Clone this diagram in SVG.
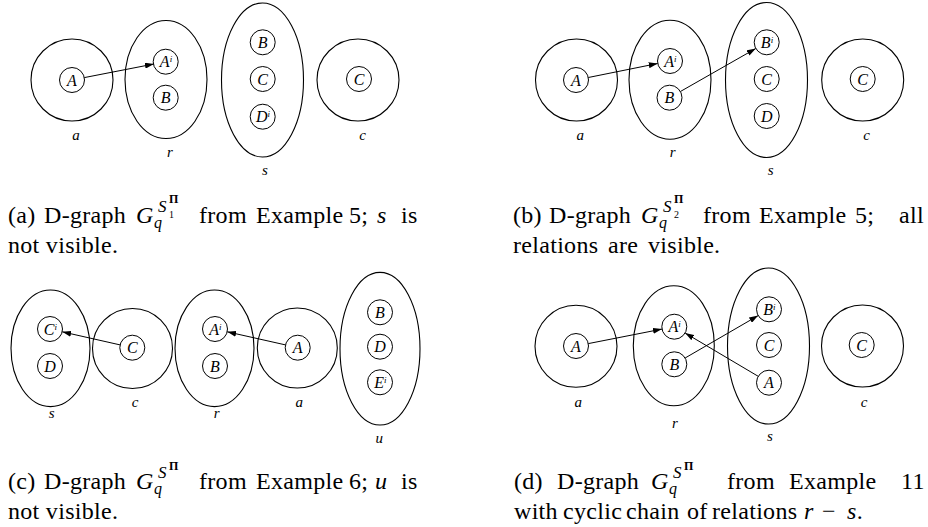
<svg xmlns="http://www.w3.org/2000/svg" width="928" height="527" viewBox="0 0 928 527">
<style>
.reg{fill:none;stroke:#000;stroke-width:1.1}
.att{fill:none;stroke:#000;stroke-width:1}
.al{font-family:'Liberation Serif','Times New Roman','DejaVu Serif',serif;font-style:italic;font-size:16px;text-anchor:middle;fill:#000}
.sup{font-size:9px}
.rl{font-family:'Liberation Serif','Times New Roman','DejaVu Serif',serif;font-style:italic;font-size:15px;text-anchor:middle;fill:#000}
.edge{fill:none;stroke:#000;stroke-width:1;marker-end:url(#ah)}
.cap{font-family:'Liberation Serif','Times New Roman','DejaVu Serif',serif;font-size:24px;letter-spacing:0.3px;fill:#000}
.it{font-style:italic}
.mG{font-family:'Liberation Serif','Times New Roman','DejaVu Serif',serif;font-style:italic;font-size:24px}
.mq{font-family:'Liberation Serif','Times New Roman','DejaVu Serif',serif;font-style:italic;font-size:16px}
.mS{font-family:'Liberation Serif','Times New Roman','DejaVu Serif',serif;font-style:italic;font-size:17px}
.m1{font-family:'Liberation Serif','Times New Roman','DejaVu Serif',serif;font-size:10px}
.mP{font-family:'Liberation Serif','Times New Roman','DejaVu Serif',serif;font-weight:bold;font-size:12px}
</style>
<defs>
<marker id="ah" markerUnits="userSpaceOnUse" markerWidth="9" markerHeight="6" refX="9" refY="3" orient="auto">
<path d="M0,0 L9,3 L0,6 z" fill="#000"/>
</marker>
</defs>

<!-- Panel (a) -->
<g id="a1-region-a"><circle class="reg" cx="72" cy="80" r="41"/><text class="rl" x="76" y="140">a</text></g>
<g id="a1-region-r"><ellipse class="reg" cx="166" cy="79.5" rx="41" ry="59"/><text class="rl" x="170" y="157">r</text></g>
<g id="a1-region-s"><ellipse class="reg" cx="262.5" cy="80" rx="41" ry="77"/><text class="rl" x="265" y="175">s</text></g>
<g id="a1-region-c"><circle class="reg" cx="358" cy="80" r="41"/><text class="rl" x="362.5" y="140">c</text></g>
<g id="a1-a-A"><circle class="att" cx="72" cy="80" r="12.5"/><text class="al" x="72" y="85.5">A</text></g>
<g id="a1-r-Ai"><circle class="att" cx="165.7" cy="61.7" r="12.5"/><text class="al" x="166" y="67.2">A<tspan class="sup" dy="-5">i</tspan></text></g>
<g id="a1-r-B"><circle class="att" cx="165.7" cy="97.7" r="12.5"/><text class="al" x="165.7" y="103.2">B</text></g>
<g id="a1-s-B"><circle class="att" cx="262.7" cy="42.3" r="12.5"/><text class="al" x="262.7" y="47.8">B</text></g>
<g id="a1-s-C"><circle class="att" cx="262.7" cy="79" r="12.5"/><text class="al" x="262.7" y="84.5">C</text></g>
<g id="a1-s-Di"><circle class="att" cx="262.7" cy="116.7" r="12.5"/><text class="al" x="263" y="122.2">D<tspan class="sup" dy="-5">i</tspan></text></g>
<g id="a1-c-C"><circle class="att" cx="359" cy="79" r="12.5"/><text class="al" x="359" y="84.5">C</text></g>

<!-- Panel (b) -->
<g id="b-region-a"><circle class="reg" cx="576.5" cy="80" r="41"/><text class="rl" x="580.3" y="140">a</text></g>
<g id="b-region-r"><ellipse class="reg" cx="670" cy="79.7" rx="41" ry="59.5"/><text class="rl" x="672.7" y="157">r</text></g>
<g id="b-region-s"><ellipse class="reg" cx="766.5" cy="80" rx="41" ry="77.5"/><text class="rl" x="770.7" y="175">s</text></g>
<g id="b-region-c"><circle class="reg" cx="862.7" cy="80" r="41"/><text class="rl" x="866.7" y="140">c</text></g>
<g id="b-a-A"><circle class="att" cx="576" cy="80" r="12.5"/><text class="al" x="576" y="85.5">A</text></g>
<g id="b-r-Ai"><circle class="att" cx="670" cy="61" r="12.5"/><text class="al" x="670.3" y="66.5">A<tspan class="sup" dy="-5">i</tspan></text></g>
<g id="b-r-B"><circle class="att" cx="669.5" cy="97.7" r="12.5"/><text class="al" x="669.5" y="103.2">B</text></g>
<g id="b-s-Bi"><circle class="att" cx="766.7" cy="42.3" r="12.5"/><text class="al" x="767" y="47.8">B<tspan class="sup" dy="-5">i</tspan></text></g>
<g id="b-s-C"><circle class="att" cx="766.7" cy="79" r="12.5"/><text class="al" x="766.7" y="84.5">C</text></g>
<g id="b-s-D"><circle class="att" cx="766.7" cy="116" r="12.5"/><text class="al" x="766.7" y="121.5">D</text></g>
<g id="b-c-C"><circle class="att" cx="862.7" cy="79" r="12.5"/><text class="al" x="862.7" y="84.5">C</text></g>

<!-- Panel (c) -->
<g id="c-region-s"><ellipse class="reg" cx="50.5" cy="348.3" rx="39.5" ry="58.3"/><text class="rl" x="51.7" y="418">s</text></g>
<g id="c-region-c"><circle class="reg" cx="132.5" cy="348.5" r="40"/><text class="rl" x="135" y="407">c</text></g>
<g id="c-region-r"><ellipse class="reg" cx="214.5" cy="348.3" rx="39.5" ry="58.3"/><text class="rl" x="216.7" y="418">r</text></g>
<g id="c-region-a"><circle class="reg" cx="297.3" cy="348" r="40"/><text class="rl" x="299.3" y="407">a</text></g>
<g id="c-region-u"><ellipse class="reg" cx="380" cy="348.7" rx="40" ry="76.3"/><text class="rl" x="379.3" y="443">u</text></g>
<g id="c-s-Ci"><circle class="att" cx="50" cy="329" r="12.5"/><text class="al" x="50.3" y="334.5">C<tspan class="sup" dy="-5">i</tspan></text></g>
<g id="c-s-D"><circle class="att" cx="50" cy="366" r="12.5"/><text class="al" x="50" y="371.5">D</text></g>
<g id="c-c-C"><circle class="att" cx="132.3" cy="347.7" r="12.5"/><text class="al" x="132.3" y="353.2">C</text></g>
<g id="c-r-Ai"><circle class="att" cx="215" cy="329" r="12.5"/><text class="al" x="215.3" y="334.5">A<tspan class="sup" dy="-5">i</tspan></text></g>
<g id="c-r-B"><circle class="att" cx="215" cy="366" r="12.5"/><text class="al" x="215" y="371.5">B</text></g>
<g id="c-a-A"><circle class="att" cx="297.7" cy="347.7" r="12.5"/><text class="al" x="297.7" y="353.2">A</text></g>
<g id="c-u-B"><circle class="att" cx="380" cy="312.3" r="12.5"/><text class="al" x="380" y="317.8">B</text></g>
<g id="c-u-D"><circle class="att" cx="380" cy="346.7" r="12.5"/><text class="al" x="380" y="352.2">D</text></g>
<g id="c-u-Ei"><circle class="att" cx="380" cy="382.3" r="12.5"/><text class="al" x="380.3" y="387.8">E<tspan class="sup" dy="-5">i</tspan></text></g>

<!-- Panel (d) -->
<g id="d-region-a"><circle class="reg" cx="576" cy="346.3" r="41"/><text class="rl" x="578.3" y="407">a</text></g>
<g id="d-region-r"><ellipse class="reg" cx="673.8" cy="345.8" rx="40.5" ry="60"/><text class="rl" x="675" y="428">r</text></g>
<g id="d-region-s"><ellipse class="reg" cx="768.5" cy="346" rx="41" ry="78"/><text class="rl" x="770" y="441">s</text></g>
<g id="d-region-c"><circle class="reg" cx="862.5" cy="346" r="41"/><text class="rl" x="864" y="407">c</text></g>
<g id="d-a-A"><circle class="att" cx="576" cy="346" r="12.5"/><text class="al" x="576" y="351.5">A</text></g>
<g id="d-r-Ai"><circle class="att" cx="674.3" cy="326.7" r="12.5"/><text class="al" x="674.6" y="332.2">A<tspan class="sup" dy="-5">i</tspan></text></g>
<g id="d-r-B"><circle class="att" cx="674.3" cy="364.3" r="12.5"/><text class="al" x="674.3" y="369.8">B</text></g>
<g id="d-s-Bi"><circle class="att" cx="769" cy="309.3" r="12.5"/><text class="al" x="769.3" y="314.8">B<tspan class="sup" dy="-5">i</tspan></text></g>
<g id="d-s-C"><circle class="att" cx="769" cy="345" r="12.5"/><text class="al" x="769" y="350.5">C</text></g>
<g id="d-s-A"><circle class="att" cx="769" cy="382.7" r="12.5"/><text class="al" x="769" y="388.2">A</text></g>
<g id="d-c-C"><circle class="att" cx="861.7" cy="345" r="12.5"/><text class="al" x="861.7" y="350.5">C</text></g>

<!-- Connectors -->
<g id="connectors">
<line class="edge" x1="84.3" y1="77.6" x2="153.9" y2="64.0"/>
<line class="edge" x1="588.3" y1="77.5" x2="657.7" y2="63.5"/>
<line class="edge" x1="680.4" y1="91.5" x2="755.8" y2="48.5"/>
<line class="edge" x1="120.1" y1="344.9" x2="62.2" y2="331.8"/>
<line class="edge" x1="285.5" y1="344.9" x2="227.2" y2="331.8"/>
<line class="edge" x1="588.3" y1="343.6" x2="662.0" y2="329.1"/>
<line class="edge" x1="685.1" y1="358.0" x2="758.2" y2="315.6"/>
<line class="edge" x1="758.2" y1="376.3" x2="685.1" y2="333.0"/>
</g>

<!-- Caption (a) -->
<g id="caption-a">
<text class="cap" y="223"><tspan x="8">(a)</tspan><tspan x="44">D-graph</tspan></text>
<text class="mG" x="136" y="223">G</text>
<text class="mq" x="154" y="228">q</text>
<text class="mS" x="158" y="212">S</text>
<text class="m1" x="169" y="218">1</text>
<text class="mP" x="169" y="203">Π</text>
<text class="cap" y="223"><tspan x="199">from</tspan><tspan x="256">Example</tspan><tspan x="349">5;</tspan><tspan x="377" class="it">s</tspan><tspan x="401">is</tspan></text>
<text class="cap" x="8" y="253">not visible.</text>
</g>

<!-- Caption (b) -->
<g id="caption-b">
<text class="cap" y="223"><tspan x="513">(b)</tspan><tspan x="549">D-graph</tspan></text>
<text class="mG" x="641" y="223">G</text>
<text class="mq" x="659" y="228">q</text>
<text class="mS" x="663" y="212">S</text>
<text class="m1" x="674" y="218">2</text>
<text class="mP" x="674" y="203">Π</text>
<text class="cap" y="223"><tspan x="703">from</tspan><tspan x="759">Example</tspan><tspan x="855">5;</tspan><tspan x="899">all</tspan></text>
<text class="cap" y="253"><tspan x="513">relations</tspan><tspan x="608">are</tspan><tspan x="648">visible.</tspan></text>
</g>

<!-- Caption (c) -->
<g id="caption-c">
<text class="cap" y="489"><tspan x="8">(c)</tspan><tspan x="44">D-graph</tspan></text>
<text class="mG" x="136" y="489">G</text>
<text class="mq" x="154" y="494">q</text>
<text class="mS" x="158" y="478">S</text>
<text class="mP" x="169" y="470">Π</text>
<text class="cap" y="489"><tspan x="199">from</tspan><tspan x="256">Example</tspan><tspan x="349">6;</tspan><tspan x="375" class="it">u</tspan><tspan x="401">is</tspan></text>
<text class="cap" x="8" y="519">not visible.</text>
</g>

<!-- Caption (d) -->
<g id="caption-d">
<text class="cap" y="489"><tspan x="514">(d)</tspan><tspan x="557">D-graph</tspan></text>
<text class="mG" x="651" y="489">G</text>
<text class="mq" x="669" y="494">q</text>
<text class="mS" x="673" y="478">S</text>
<text class="mP" x="684" y="470">Π</text>
<text class="cap" y="489"><tspan x="727">from</tspan><tspan x="789">Example</tspan><tspan x="901">11</tspan></text>
<text class="cap" y="519"><tspan x="514">with</tspan><tspan x="563">cyclic</tspan><tspan x="626">chain</tspan><tspan x="687">of</tspan><tspan x="712">relations</tspan><tspan x="804" class="it">r</tspan><tspan x="822">−</tspan><tspan x="847" class="it">s</tspan><tspan>.</tspan></text>
</g>
</svg>
